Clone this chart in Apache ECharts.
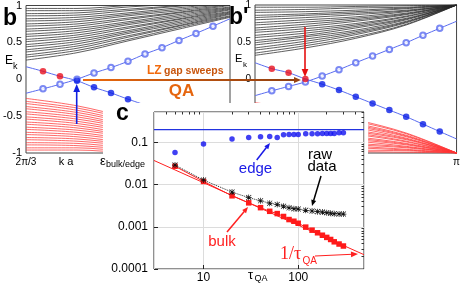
<!DOCTYPE html>
<html><head><meta charset="utf-8">
<script src="https://cdn.jsdelivr.net/npm/echarts@6/dist/echarts.min.js"></script>
<style>html,body{margin:0;padding:0;background:#fff}#c{width:463px;height:286px}</style>
</head><body><div id="c"></div>
<script>
// ---------- data: panels b / b' (k a from 2π/3 to π) ----------
const K0 = 2.0944, K1 = 3.1416;
const kBand = [2.0944, 2.3562, 2.6180, 2.8798, 3.1416];
const kDots = [2.1817, 2.2689, 2.3562, 2.4435, 2.5307, 2.6180, 2.7053, 2.7925, 2.8798, 2.9671, 3.0543];
const bBlack = [
[0.26,0.36,0.52,0.68,0.84],[0.30,0.39,0.54,0.70,0.85],[0.33,0.42,0.57,0.72,0.86],[0.37,0.45,0.59,0.73,0.88],
[0.40,0.48,0.62,0.75,0.89],[0.44,0.51,0.64,0.77,0.90],[0.47,0.54,0.66,0.79,0.91],[0.51,0.57,0.69,0.81,0.92],
[0.54,0.60,0.71,0.82,0.94],[0.58,0.63,0.74,0.84,0.95],[0.61,0.66,0.76,0.86,0.96],[0.65,0.69,0.78,0.88,0.97],
[0.68,0.72,0.81,0.90,0.98],[0.72,0.75,0.83,0.91,1.00],[0.75,0.78,0.86,0.93,1.01],[0.79,0.81,0.88,0.95,1.02],
[0.82,0.84,0.90,0.97,1.03],[0.86,0.87,0.93,0.99,1.04],[0.89,0.90,0.95,1.00,1.06],[0.93,0.93,0.98,1.02,1.07],
[0.96,0.96,1.00,1.04,1.08]];
const bRed = [
[-0.26,-0.36,-0.52,-0.68,-0.84],[-0.30,-0.39,-0.54,-0.70,-0.85],[-0.33,-0.42,-0.57,-0.72,-0.86],[-0.37,-0.45,-0.59,-0.73,-0.88],
[-0.40,-0.48,-0.62,-0.75,-0.89],[-0.44,-0.51,-0.64,-0.77,-0.90],[-0.47,-0.54,-0.66,-0.79,-0.91],[-0.51,-0.57,-0.69,-0.81,-0.92],
[-0.54,-0.60,-0.71,-0.82,-0.94],[-0.58,-0.63,-0.74,-0.84,-0.95],[-0.61,-0.66,-0.76,-0.86,-0.96],[-0.65,-0.69,-0.78,-0.88,-0.97],
[-0.68,-0.72,-0.81,-0.90,-0.98],[-0.72,-0.75,-0.83,-0.91,-1.00],[-0.75,-0.78,-0.86,-0.93,-1.01],[-0.79,-0.81,-0.88,-0.95,-1.02],
[-0.82,-0.84,-0.90,-0.97,-1.03],[-0.86,-0.87,-0.93,-0.99,-1.04],[-0.89,-0.90,-0.95,-1.00,-1.06],[-0.93,-0.93,-0.98,-1.02,-1.07],
[-0.96,-0.96,-1.00,-1.04,-1.08]];
const bpBlack = [
[0.32,0.42,0.55,0.73,1],[0.35,0.45,0.57,0.74,1],[0.39,0.48,0.60,0.76,1],[0.42,0.51,0.62,0.77,1],[0.46,0.54,0.64,0.78,1],
[0.49,0.57,0.66,0.80,1],[0.52,0.59,0.69,0.81,1],[0.56,0.62,0.71,0.82,1],[0.59,0.65,0.73,0.84,1],[0.63,0.68,0.75,0.85,1],
[0.66,0.71,0.78,0.87,1],[0.69,0.74,0.80,0.88,1],[0.73,0.77,0.82,0.89,1],[0.76,0.80,0.84,0.91,1],[0.80,0.83,0.87,0.92,1],
[0.83,0.86,0.89,0.93,1],[0.86,0.88,0.91,0.95,1],[0.90,0.91,0.93,0.96,1],[0.93,0.94,0.96,0.97,1],[0.97,0.97,0.98,0.99,1]];
const bpRed = [
[-0.32,-0.42,-0.55,-0.73,-1],[-0.35,-0.45,-0.57,-0.74,-1],[-0.39,-0.48,-0.60,-0.76,-1],[-0.42,-0.51,-0.62,-0.77,-1],[-0.46,-0.54,-0.64,-0.78,-1],
[-0.49,-0.57,-0.66,-0.80,-1],[-0.52,-0.59,-0.69,-0.81,-1],[-0.56,-0.62,-0.71,-0.82,-1],[-0.59,-0.65,-0.73,-0.84,-1],[-0.63,-0.68,-0.75,-0.85,-1],
[-0.66,-0.71,-0.78,-0.87,-1],[-0.69,-0.74,-0.80,-0.88,-1],[-0.73,-0.77,-0.82,-0.89,-1],[-0.76,-0.80,-0.84,-0.91,-1],[-0.80,-0.83,-0.87,-0.92,-1],
[-0.83,-0.86,-0.89,-0.93,-1],[-0.86,-0.88,-0.91,-0.95,-1],[-0.90,-0.91,-0.93,-0.96,-1],[-0.93,-0.94,-0.96,-0.97,-1],[-0.97,-0.97,-0.98,-0.99,-1]];
// edge-state curves: value at k = 2π/3, values at the dots, value at k = π
const bRiseEnds = [-0.19, 0.82];
const bFallEnds = [0.17, -0.74];
const bOpen = [-0.13,-0.068,0.00,0.085,0.158,0.243,0.342,0.428,0.527,0.622,0.72];
const bRedDots = [0.108, 0.04];
const bBlueDots = [-0.02,-0.11,-0.185,-0.27];
const bpRiseEnds = [-0.225, 0.78];
const bpFallEnds = [0.22, -0.81];
const bpOpen = [-0.16,-0.10,-0.04,0.04,0.126,0.22,0.31,0.40,0.49,0.59,0.685];
const bpRedDots = [0.14, 0.085, 0.0];
const bpBlueDots = [-0.07,-0.15,-0.24,-0.33,-0.42,-0.51,-0.61,-0.71];

// ---------- data: panel c ----------
const tau  = [5,10,20,30,40,50,60,70,80,90,100,120,140,160,180,200,220,240,270,300];
const edge = [0.057,0.091,0.119,0.130,0.135,0.137,0.130,0.151,0.153,0.153,0.153,0.159,0.159,0.159,0.161,0.161,0.161,0.161,0.168,0.168];
const raw  = [0.0288,0.0127,0.0066,0.0049,0.0041,0.00362,0.00335,0.00307,0.0028,0.00268,0.00262,0.00245,0.00236,0.00228,0.00222,0.00215,0.0021,0.00204,0.00201,0.002];
const bulk = [0.027,0.0118,0.0054,0.00368,0.00283,0.00232,0.00205,0.00175,0.00148,0.00135,0.00121,0.00098,0.00083,0.00072,0.00063,0.00056,0.0005,0.00044,0.00039,0.00035];
const edgeLevel = 0.198;
const fitTau = [3, 495];
const fitVal = [0.037, 0.000218];
const cXMinor = [4,5,6,7,8,9,20,30,40,50,60,70,80,90,200,300,400];
const cYMinor = [0.0002,0.0003,0.0004,0.0005,0.0006,0.0007,0.0008,0.0009,0.002,0.003,0.004,0.005,0.006,0.007,0.008,0.009,
                 0.02,0.03,0.04,0.05,0.06,0.07,0.08,0.09,0.2,0.3,0.4,0.5];

// ---------- build ----------
const FONT = '"Liberation Sans", Arial, sans-serif';
const chart = echarts.init(document.getElementById('c'));
const series = [];
function band(lines, ax, color, w) {
  lines.forEach(l => series.push({type:'line', xAxisIndex:ax, yAxisIndex:ax, data:kBand.map((k,i)=>[k,l[i]]),
    smooth:0.35, symbol:'none', silent:true, lineStyle:{color, width:w}, z:1}));
}
band(bBlack, 0, '#2a2a2a', 0.75);
band(bRed, 0, '#ff3636', 0.75);
band(bpBlack, 1, '#2a2a2a', 0.75);
band(bpRed, 1, '#ff3636', 0.75);
function edgeLines(ax, rise, fall, open, red, blue) {
  const lc = '#5a6cf0';
  const riseData = [[K0,rise[0]]].concat(open.map((v,i)=>[kDots[i],v]), [[K1,rise[1]]]);
  const fallVals = red.concat(blue);
  const fallData = [[K0,fall[0]]].concat(fallVals.map((v,i)=>[kDots[i],v]), [[K1,fall[1]]]);
  series.push({type:'line', xAxisIndex:ax, yAxisIndex:ax, data:riseData, smooth:0.3, symbol:'none', lineStyle:{color:lc,width:1}, z:3});
  series.push({type:'line', xAxisIndex:ax, yAxisIndex:ax, data:fallData, smooth:0.3, symbol:'none', lineStyle:{color:lc,width:1}, z:3});
  series.push({type:'scatter', xAxisIndex:ax, yAxisIndex:ax, data:open.map((v,i)=>[kDots[i],v]), symbol:'emptyCircle', symbolSize:5.5,
    itemStyle:{color:'#5a6cf0', borderWidth:1, borderColor:'#5a6cf0'}, z:4});
  series.push({type:'scatter', xAxisIndex:ax, yAxisIndex:ax, data:red.map((v,i)=>[kDots[i],v]), symbol:'circle', symbolSize:6.5,
    itemStyle:{color:'#e8101e'}, z:5});
  series.push({type:'scatter', xAxisIndex:ax, yAxisIndex:ax, data:blue.map((v,i)=>[kDots[red.length+i],v]), symbol:'circle', symbolSize:6.5,
    itemStyle:{color:'#0a1ee6'}, z:5});
}
edgeLines(0, bRiseEnds, bFallEnds, bOpen, bRedDots, bBlueDots);
edgeLines(1, bpRiseEnds, bpFallEnds, bpOpen, bpRedDots, bpBlueDots);

// panel c series (zlevel 1, drawn over the white cover)
series.push({type:'line', xAxisIndex:2, yAxisIndex:2, zlevel:1, z:5, data:fitTau.map(t=>[t,edgeLevel]), symbol:'none', lineStyle:{color:'#2233e0', width:1.3}});
series.push({type:'scatter', xAxisIndex:2, yAxisIndex:2, zlevel:1, z:6, data:tau.map((t,i)=>[t,edge[i]]), symbol:'circle', symbolSize:5.5, itemStyle:{color:'#1010f0'}});
series.push({type:'line', xAxisIndex:2, yAxisIndex:2, zlevel:1, z:5, data:fitTau.map((t,i)=>[t,fitVal[i]]), symbol:'none', lineStyle:{color:'#ff2020', width:1}});
series.push({type:'line', xAxisIndex:2, yAxisIndex:2, zlevel:1, z:6, data:tau.map((t,i)=>[t,bulk[i]]), symbol:'rect', symbolSize:5.5, showAllSymbol:true,
  itemStyle:{color:'#ff1a1a'}, lineStyle:{color:'#ff2020', width:1}});
const STAR = 'path://M4.4,0h1.2v10h-1.2z M0,4.4h10v1.2h-10z M1.2,0.4l8.4,8.4l-0.8,0.8l-8.4,-8.4z M8.8,0.4l0.8,0.8l-8.4,8.4l-0.8,-0.8z';
series.push({type:'line', xAxisIndex:2, yAxisIndex:2, zlevel:1, z:7, data:tau.map((t,i)=>[t,raw[i]]), symbol:STAR, symbolSize:6, showAllSymbol:true,
  itemStyle:{color:'#111'}, lineStyle:{color:'#222', width:1, type:'dotted'}});

// graphics
const G = [];
function txt(text, x, y, size, color, o) {
  o = o || {};
  G.push({type:'text', x, y, zlevel:o.zl||0, z:60, silent:true, style:{text, fill:color,
    font:(o.bold?'bold ':'')+size+'px '+(o.family||FONT), textAlign:o.align||'left', textVerticalAlign:'middle'}});
}
function arrow(x1,y1,x2,y2,color,w,hs,zl,stroke) {
  const a=Math.atan2(y2-y1,x2-x1), W=hs*0.42;
  const bx=x2-hs*Math.cos(a), by=y2-hs*Math.sin(a), px=-Math.sin(a)*W, py=Math.cos(a)*W;
  G.push({type:'line', zlevel:zl, z:55, silent:true, shape:{x1,y1,x2:bx+0.5*Math.cos(a),y2:by+0.5*Math.sin(a)}, style:{stroke:stroke||color, lineWidth:w}});
  G.push({type:'polygon', zlevel:zl, z:56, silent:true, shape:{points:[[x2,y2],[bx+px,by+py],[bx-px,by-py]]}, style:{fill:color}});
}
// white cover for panel c
G.push({type:'rect', zlevel:1, z:0, silent:true, shape:{x:103, y:103, width:265, height:183}, style:{fill:'#fff'}});
// panel labels b, b'
txt('b', 3, 19, 23, '#000', {bold:true});
txt("b'", 229, 18, 23, '#000', {bold:true});
txt('c', 116, 114, 23, '#000', {bold:true, zl:1});
// E_k
txt('E', 5, 61, 12, '#000'); txt('k', 13, 67, 9, '#000');
txt('E', 235, 59, 11, '#000'); txt('k', 243, 65, 8, '#000');
txt('k a', 66, 162, 11, '#000', {align:'center'});
// LZ / QA
arrow(83, 80, 301, 80, '#9a4210', 2, 7, 0,
  {type:'linear', x:83, y:0, x2:301, y2:0, global:true, colorStops:[{offset:0,color:'#ee6a0c'},{offset:0.45,color:'#c05510'},{offset:1,color:'#8e3e10'}]});
txt('LZ', 147, 71, 12, '#f26a0c', {bold:true});
txt('gap sweeps', 164, 71.5, 10.5, '#c8560e', {bold:true});
txt('QA', 181.5, 91, 17, '#e5650e', {bold:true, align:'center'});
// crossing arrows
arrow(76.7, 124, 76.7, 84, '#1020e0', 1.6, 8, 0);
arrow(305, 27, 305, 77, '#e51010', 1.6, 8, 0);
// panel c texts
txt('ε', 100, 161, 13, '#000', {zl:1}); txt('bulk/edge', 106, 165, 9, '#000', {zl:1});
txt('τ', 248, 275, 13, '#000', {zl:1}); txt('QA', 254.5, 279, 9, '#000', {zl:1});
txt('edge', 255.5, 169, 15, '#1a1ae6', {align:'center', zl:1});
txt('raw', 320, 155, 15, '#000', {align:'center', zl:1});
txt('data', 322, 167, 15, '#000', {align:'center', zl:1});
txt('bulk', 222, 242, 15, '#ff2020', {align:'center', zl:1});
txt('1/τ', 280, 254, 18, '#ff2020', {zl:1, family:'"Liberation Serif", serif'});
txt('QA', 302.5, 261, 10, '#ff2020', {zl:1});
arrow(256.7, 160, 270, 143, '#1a1ae6', 1.5, 6, 1);
arrow(321, 176, 312, 206, '#000', 1.5, 6, 1);
arrow(227, 232, 248, 207, '#ff2020', 1.5, 6, 1);
arrow(315, 256, 358, 254, '#ff2020', 1, 7, 1);

const bY = (ax, size) => ({type:'value', gridIndex:ax, min:-1, max:1, interval:0.5,
  axisLine:{show:false}, axisTick:{show:false}, splitLine:{show:false},
  axisLabel:{fontFamily:FONT, fontSize:size, color:'#000', margin:4, formatter:v=>String(v)}});
const bX = (ax, size) => ({type:'value', gridIndex:ax, min:K0, max:K1,
  axisLine:{show:false}, axisTick:{show:false}, splitLine:{show:false},
  axisLabel:{fontFamily:FONT, fontSize:size, color:'#000', margin:4, customValues:[K0, K1],
    formatter:v=>(Math.abs(v-K0)<1e-3?'2π/3':'π')}});

chart.setOption({
  animation:false,
  backgroundColor:'#fff',
  grid:[
    {left:26, top:5, width:204, height:148, show:true, borderColor:'#444', borderWidth:1, backgroundColor:'transparent'},
    {left:255, top:5, width:203, height:148, show:true, borderColor:'#444', borderWidth:1, backgroundColor:'transparent'},
    {left:154, top:112, width:210, height:157, show:true, borderColor:'#222', borderWidth:1, backgroundColor:'transparent', zlevel:1, z:2}
  ],
  xAxis:[ bX(0,10), bX(1,10),
    {type:'log', logBase:10, gridIndex:2, min:3, max:495, zlevel:1, z:3,
      axisLine:{show:false}, axisTick:{show:true, inside:true, length:4, lineStyle:{color:'#222'}},
      splitLine:{show:true, lineStyle:{color:'#dcdcdc', width:1}},
      axisLabel:{fontFamily:FONT, fontSize:12, color:'#000', margin:3, showMinLabel:false, showMaxLabel:false,
        formatter:v=>String(Math.round(v))}},
    {type:'log', logBase:10, gridIndex:2, min:3, max:495, zlevel:1, z:3,
      axisLine:{show:false}, axisLabel:{show:false}, splitLine:{show:false},
      axisTick:{show:true, inside:true, length:2.5, customValues:cXMinor, lineStyle:{color:'#333'}}} ],
  yAxis:[ bY(0,11), bY(1,10),
    {type:'log', logBase:10, gridIndex:2, min:0.0001, max:0.52, zlevel:1, z:3,
      axisLine:{show:false}, axisTick:{show:true, inside:true, length:4, lineStyle:{color:'#222'}},
      splitLine:{show:true, lineStyle:{color:'#dcdcdc', width:1}},
      axisLabel:{fontFamily:FONT, fontSize:12, color:'#000', margin:6, showMaxLabel:false,
        formatter:v=>String(parseFloat(v.toPrecision(2)))}},
    {type:'log', logBase:10, gridIndex:2, min:0.0001, max:0.52, zlevel:1, z:3,
      axisLine:{show:false}, axisLabel:{show:false}, splitLine:{show:false},
      axisTick:{show:true, inside:true, length:2.5, customValues:cYMinor, lineStyle:{color:'#333'}}} ],
  series,
  graphic:{elements:G}
});
</script></body></html>
